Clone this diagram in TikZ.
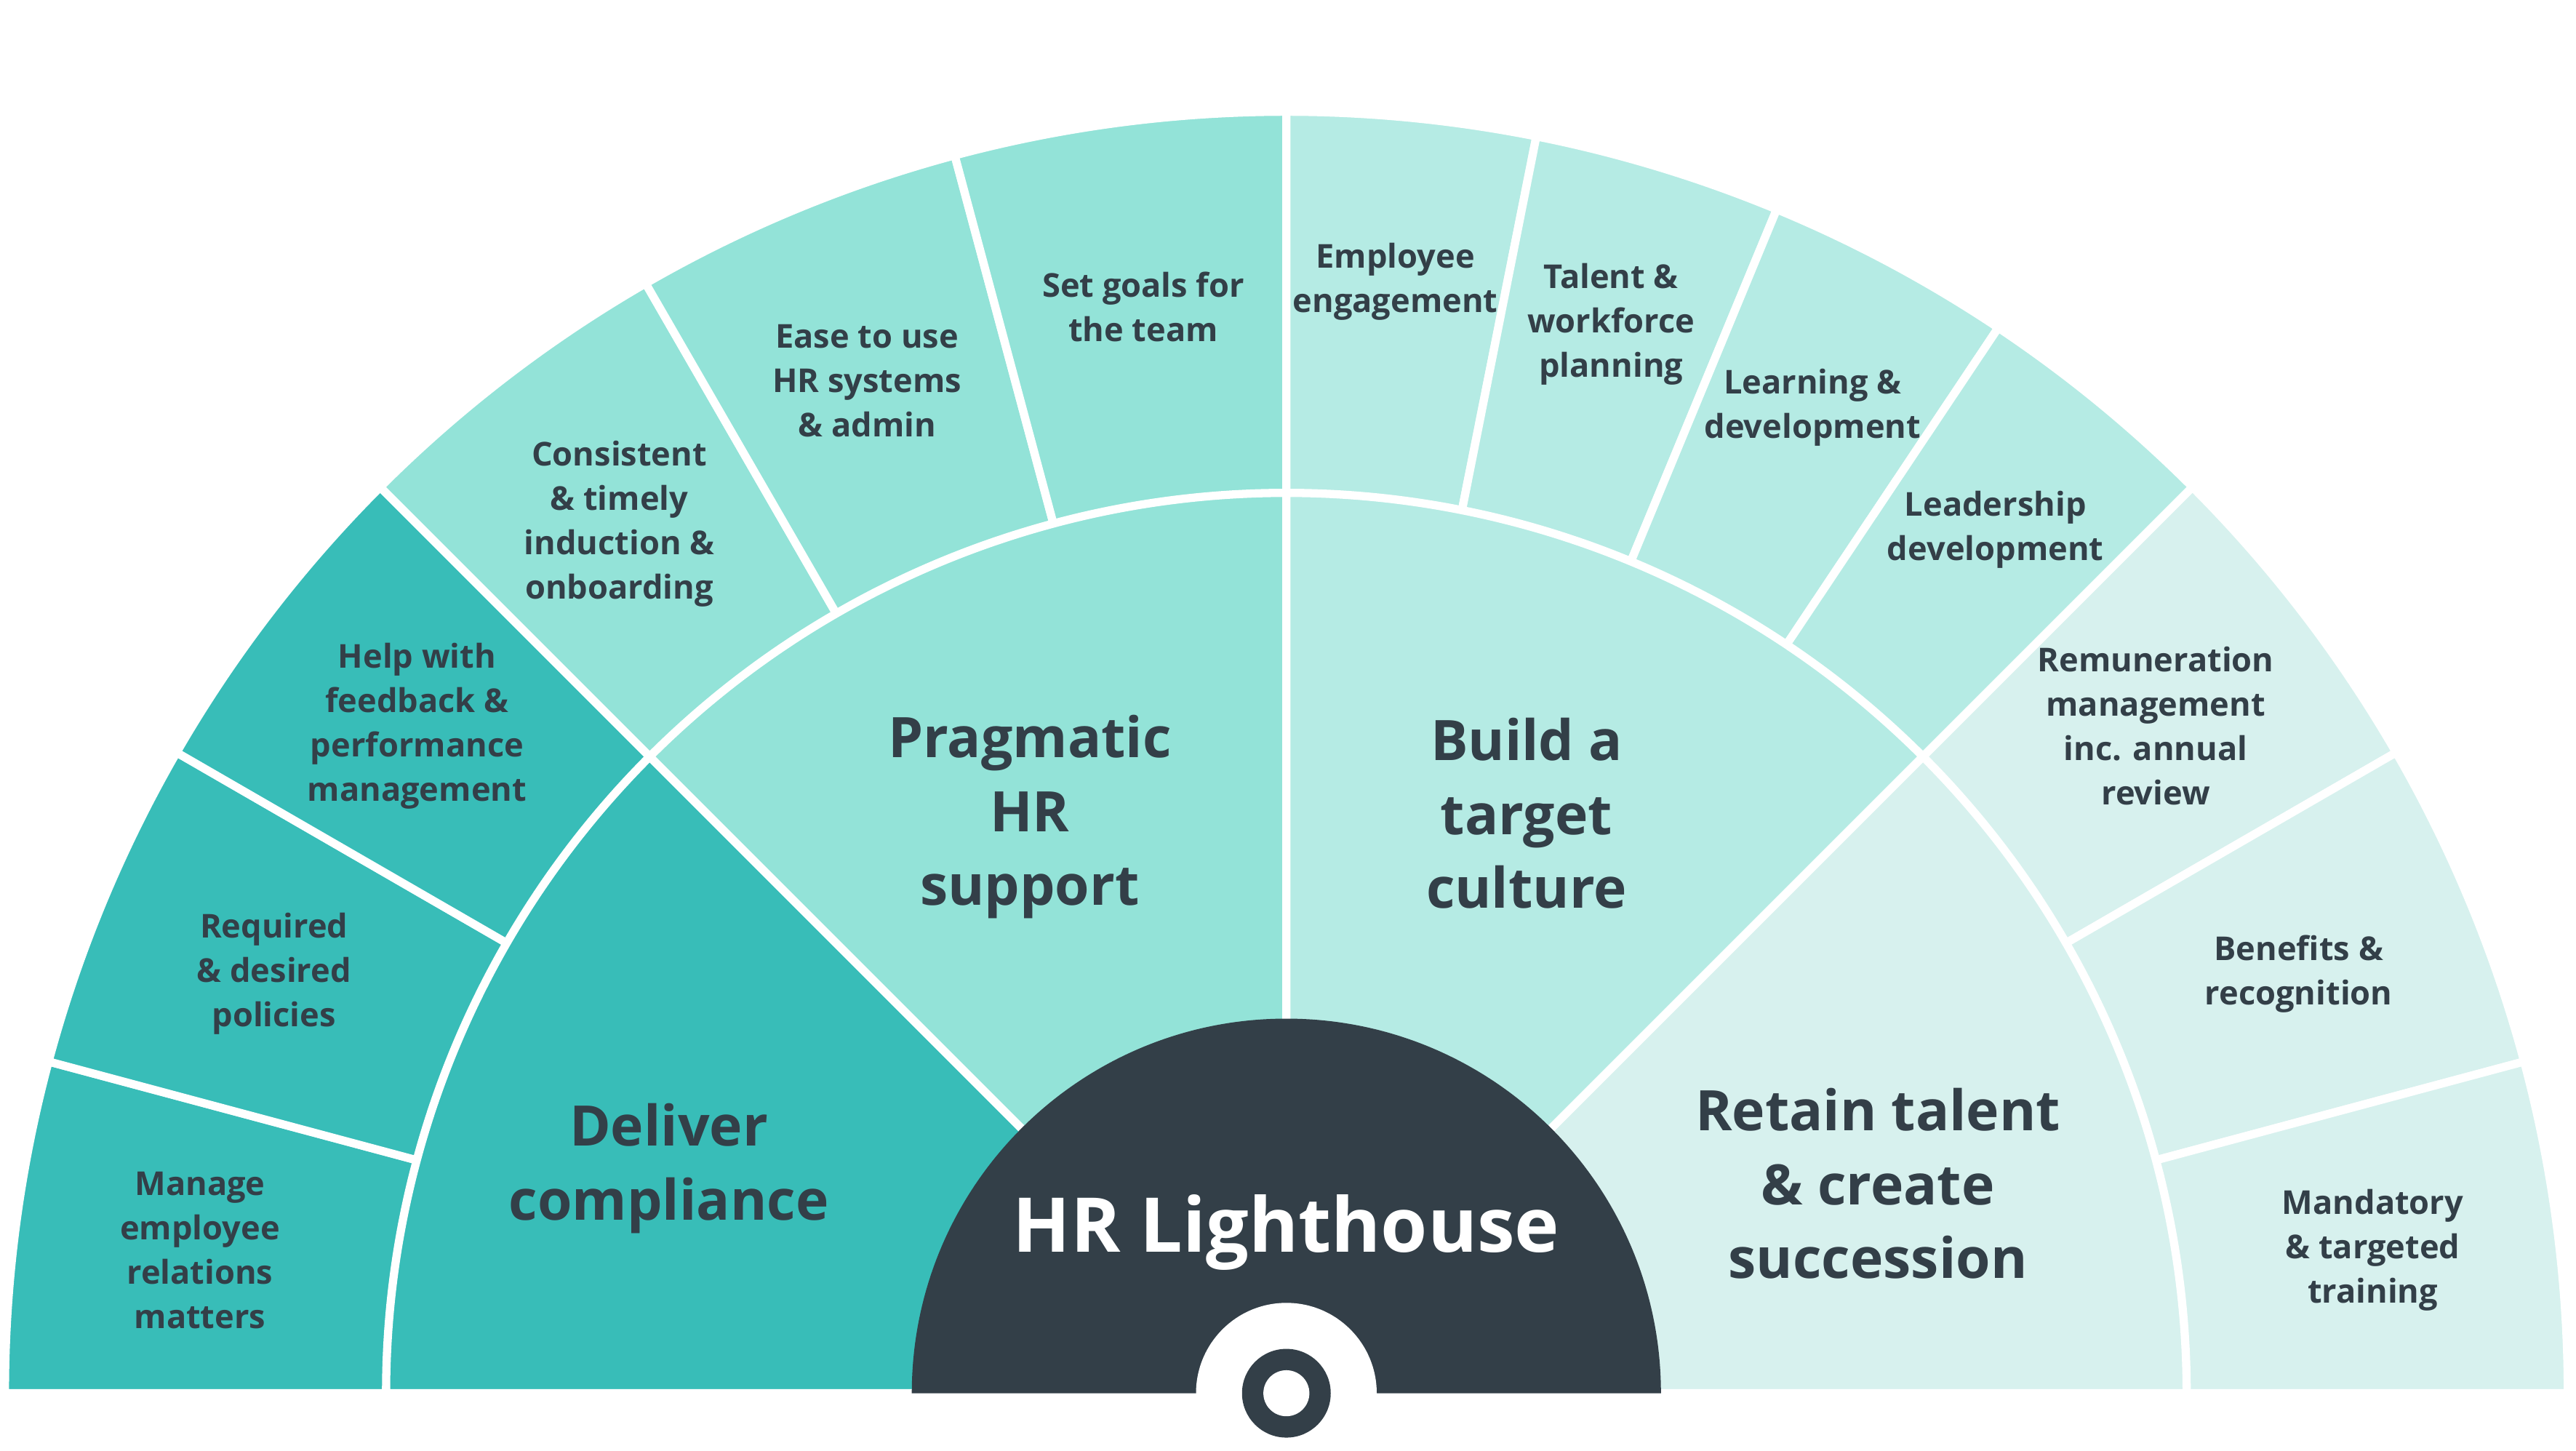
\documentclass[tikz,border=0pt]{standalone}
\usepackage{fontspec}
\setmainfont{Open Sans}
\usetikzlibrary{calc}
\definecolor{compl}{HTML}{38BDB8}
\definecolor{prag}{HTML}{93E3D8}
\definecolor{cult}{HTML}{B5EBE4}
\definecolor{ret}{HTML}{D7F1EE}
\definecolor{ink}{HTML}{333F48}

\begin{document}
\begin{tikzpicture}[x=1pt, y=1pt,
  wedge/.style={draw=white, line width=5pt, line join=round},
  outer/.style={align=center, text=ink, font=\fontsize{20}{27}\selectfont\bfseries},
  middle/.style={align=center, text=ink, font=\fontsize{34}{45}\selectfont\bfseries},
  ]

\useasboundingbox (0,0) rectangle (1568,883);
\coordinate (C) at (783,35);

% outer ring
\foreach \a/\b/\c in {180/165/compl, 165/150/compl, 150/135/compl,
                      135/120/prag, 120/105/prag, 105/90/prag,
                      90/78.75/cult, 78.75/67.5/cult, 67.5/56.25/cult, 56.25/45/cult,
                      45/30/ret, 30/15/ret, 15/0/ret}
  \filldraw [wedge, fill=\c] (C) -- ++(\a:780) arc (\a:\b:780) -- cycle;

% middle ring
\foreach \a/\b/\c in {180/135/compl, 135/90/prag, 90/45/cult, 45/0/ret}
  \filldraw [wedge, fill=\c] (C) -- ++(\a:548) arc (\a:\b:548) -- cycle;

% hub
\fill [ink] (C) ++(0:228) arc (0:180:228) -- cycle;
\fill [white] (C) circle (55);
\fill [ink] (C) circle (27);
\fill [white] (C) circle (14);
\node (hub) [text=white, font=\fontsize{46}{50}\selectfont\bfseries] at (783,133) {HR Lighthouse};

% middle labels
\node (compliance) [middle] at ($(C)+(160:400)$) {Deliver\\compliance};
\node (support)    [middle] at ($(C)+(114:384)$) {Pragmatic\\HR\\support};
\node (culture)    [middle] at ($(C)+(67.5:382)$) {Build a\\target\\culture};
\node (talent)     [middle] at ($(C)+(19.5:382)$) {Retain talent\\\& create\\succession};

% outer labels
\node (relations)  [outer] at ($(C)+(172.5:667)$) {Manage\\employee\\relations\\matters};
\node (policies)   [outer] at ($(C)+(157.5:667)$) {Required\\\& desired\\policies};
\node (feedback)   [outer] at ($(C)+(142.5:667)$) {Help with\\feedback \&\\performance\\management};
\node (induction)  [outer] at ($(C)+(127.5:667)$) {Consistent\\\& timely\\induction \&\\onboarding};
\node (systems)    [outer] at ($(C)+(112.5:667)$) {Ease to use\\HR systems\\\& admin};
\node (goals)      [outer] at ($(C)+(97.5:667)$) {Set goals for\\the team};
\node (engagement) [outer] at ($(C)+(84.4:680)$) {Employee\\engagement};
\node (workforce)  [outer] at ($(C)+(73.1:680)$) {Talent \&\\workforce\\planning};
\node (learning)   [outer] at ($(C)+(61.9:680)$) {Learning \&\\development};
\node (leadership) [outer] at ($(C)+(50.6:680)$) {Leadership\\development};
\node (pay)        [outer] at ($(C)+(37.5:667)$) {Remuneration\\management\\inc. annual\\review};
\node (benefits)   [outer] at ($(C)+(22.5:667)$) {Benefits \&\\recognition};
\node (training)   [outer] at ($(C)+(7.5:667)$) {Mandatory\\\& targeted\\training};

\end{tikzpicture}
\end{document}
